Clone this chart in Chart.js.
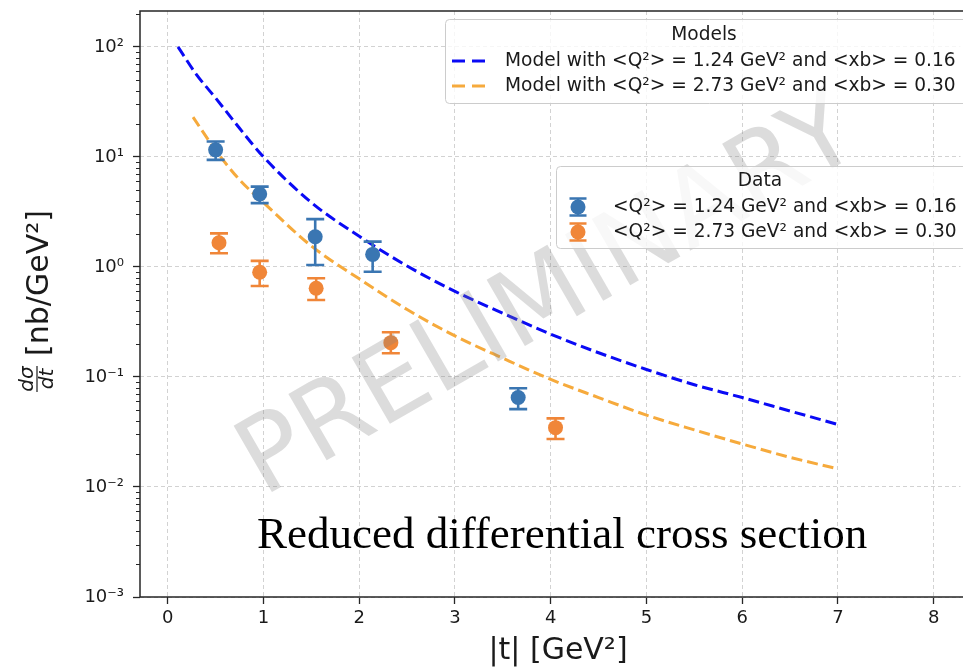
<!DOCTYPE html>
<html><head><meta charset="utf-8">
<script src="https://cdn.jsdelivr.net/npm/chart.js@4.4.1/dist/chart.umd.min.js"></script>
<style>
html,body{margin:0;padding:0;overflow:hidden;background:#fff}
canvas{display:block}
</style>
</head><body>
<canvas id="c" width="968" height="668" style="width:968px;height:668px"></canvas>
<script>
// ---- data ----
const xTickValues = [0, 1, 2, 3, 4, 5, 6, 7, 8];
const yTickExponents = [-3, -2, -1, 0, 1, 2];

const modelLabels = ['Model with <Q\u00B2> = 1.24 GeV\u00B2 and <xb> = 0.16',
                     'Model with <Q\u00B2> = 2.73 GeV\u00B2 and <xb> = 0.30'];
const dataLabels = ['<Q\u00B2> = 1.24 GeV\u00B2 and <xb> = 0.16',
                    '<Q\u00B2> = 2.73 GeV\u00B2 and <xb> = 0.30'];

const modelBlueT = [0.107, 0.3, 0.5, 0.75, 1.0, 1.5, 2.0, 2.5, 3.0, 3.5, 4.0, 4.5, 5.0, 5.5, 6.0, 6.5, 7.0];
const modelBlueV = [100, 56, 34.3, 18.2, 10, 3.85, 1.9, 1.02, 0.6, 0.38, 0.245, 0.166, 0.117, 0.085, 0.065, 0.049, 0.037];
const modelOrangeT = [0.264, 0.5, 0.75, 1.0, 1.5, 2.0, 2.5, 3.0, 3.5, 4.0, 4.5, 5.0, 5.5, 6.0, 6.5, 7.0];
const modelOrangeV = [23, 11.5, 6.2, 3.85, 1.55, 0.78, 0.41, 0.236, 0.148, 0.095, 0.065, 0.045, 0.033, 0.0246, 0.0186, 0.0146];

const dataBlueT  = [0.50, 0.96, 1.54, 2.14, 3.66];
const dataBlueV  = [11.6, 4.6, 1.88, 1.30, 0.065];
const dataBlueLo = [9.4, 3.8, 1.04, 0.905, 0.051];
const dataBlueHi = [13.8, 5.37, 2.72, 1.70, 0.079];

const dataOrangeT  = [0.535, 0.96, 1.55, 2.33, 4.05];
const dataOrangeV  = [1.66, 0.895, 0.64, 0.205, 0.0346];
const dataOrangeLo = [1.33, 0.672, 0.50, 0.164, 0.0273];
const dataOrangeHi = [2.02, 1.135, 0.789, 0.255, 0.042];

// ---- styling ----
const C_BLUE_LINE = '#0a0af5';
const C_ORANGE_LINE = '#f6aa3c';
const C_BLUE_PT = '#3a76b2';
const C_ORANGE_PT = '#f08638';
const FONT = '"DejaVu Sans", "Noto Sans", sans-serif';
const TXT = '#1a1a1a';

const SUP = {'-':'\u207B','0':'\u2070','1':'\u00B9','2':'\u00B2','3':'\u00B3','4':'\u2074','5':'\u2075','6':'\u2076','7':'\u2077','8':'\u2078','9':'\u2079'};
const sup = n => String(n).split('').map(c => SUP[c]).join('');
const pairs = (xs, ys) => xs.map((x, i) => ({x: x, y: ys[i]}));

const errorSets = {
  2: {t: dataBlueT, lo: dataBlueLo, hi: dataBlueHi, color: C_BLUE_PT},
  3: {t: dataOrangeT, lo: dataOrangeLo, hi: dataOrangeHi, color: C_ORANGE_PT}
};

function roundRect(ctx, x, y, w, h, r) {
  ctx.beginPath();
  ctx.moveTo(x + r, y);
  ctx.lineTo(x + w - r, y); ctx.quadraticCurveTo(x + w, y, x + w, y + r);
  ctx.lineTo(x + w, y + h - r); ctx.quadraticCurveTo(x + w, y + h, x + w - r, y + h);
  ctx.lineTo(x + r, y + h); ctx.quadraticCurveTo(x, y + h, x, y + h - r);
  ctx.lineTo(x, y + r); ctx.quadraticCurveTo(x, y, x + r, y);
  ctx.closePath();
}

function errMarker(ctx, x, y, color, half, capHalf, r) {
  ctx.strokeStyle = color; ctx.fillStyle = color; ctx.lineWidth = 2.6;
  ctx.beginPath();
  ctx.moveTo(x, y - half); ctx.lineTo(x, y + half);
  ctx.moveTo(x - capHalf, y - half); ctx.lineTo(x + capHalf, y - half);
  ctx.moveTo(x - capHalf, y + half); ctx.lineTo(x + capHalf, y + half);
  ctx.stroke();
  ctx.beginPath(); ctx.arc(x, y, r, 0, Math.PI * 2); ctx.fill();
}

const decorPlugin = {
  id: 'decor',
  beforeDatasetDraw(chart, args) {
    const e = errorSets[args.index];
    if (!e) return;
    const ctx = chart.ctx, xs = chart.scales.x, ys = chart.scales.y;
    ctx.save();
    ctx.strokeStyle = e.color; ctx.lineWidth = 2.6;
    e.t.forEach((t, i) => {
      const x = xs.getPixelForValue(t);
      const y1 = ys.getPixelForValue(e.lo[i]), y2 = ys.getPixelForValue(e.hi[i]);
      ctx.beginPath();
      ctx.moveTo(x, y1); ctx.lineTo(x, y2);
      ctx.moveTo(x - 9, y1); ctx.lineTo(x + 9, y1);
      ctx.moveTo(x - 9, y2); ctx.lineTo(x + 9, y2);
      ctx.stroke();
    });
    ctx.restore();
  },
  afterDatasetsDraw(chart) {
    const ctx = chart.ctx, a = chart.chartArea, ys = chart.scales.y;
    ctx.save();
    // frame (right spine lies outside the picture)
    ctx.strokeStyle = '#262626'; ctx.lineWidth = 1.5; ctx.setLineDash([]);
    ctx.beginPath();
    ctx.moveTo(a.right + 5, a.top); ctx.lineTo(a.left, a.top);
    ctx.lineTo(a.left, a.bottom); ctx.lineTo(a.right + 5, a.bottom);
    ctx.stroke();
    // minor log ticks
    ctx.lineWidth = 1;
    for (let e = -3; e <= 2; e++) {
      for (let m = 2; m <= 9; m++) {
        const v = m * Math.pow(10, e);
        if (v > ys.max) continue;
        const y = Math.round(ys.getPixelForValue(v)) + 0.5;
        ctx.beginPath(); ctx.moveTo(a.left - 4, y); ctx.lineTo(a.left, y); ctx.stroke();
      }
    }
    // caption inside plot
    ctx.fillStyle = '#000';
    ctx.font = '45px "Liberation Serif", "Times New Roman", serif';
    ctx.textAlign = 'left'; ctx.textBaseline = 'alphabetic';
    ctx.fillText('Reduced differential cross section', 257, 548);
    // watermark
    ctx.save();
    ctx.translate(550, 300);
    ctx.rotate(-30 * Math.PI / 180);
    ctx.font = '105px ' + FONT;
    ctx.fillStyle = 'rgba(128,128,128,0.28)';
    ctx.textAlign = 'center'; ctx.textBaseline = 'middle';
    ctx.fillText('PRELIMINARY', 0, 0);
    ctx.restore();

    // Models legend
    ctx.font = '18.6px ' + FONT;
    roundRect(ctx, 445.5, 19.5, 540, 84, 4);
    ctx.fillStyle = 'rgba(255,255,255,0.8)'; ctx.fill();
    ctx.strokeStyle = '#cccccc'; ctx.lineWidth = 1; ctx.stroke();
    ctx.fillStyle = TXT; ctx.textAlign = 'center'; ctx.textBaseline = 'middle';
    ctx.fillText('Models', 704, 35);
    ctx.textAlign = 'left';
    [[C_BLUE_LINE, 61], [C_ORANGE_LINE, 86]].forEach(([c, y], i) => {
      ctx.save();
      ctx.strokeStyle = c; ctx.lineWidth = 3; ctx.setLineDash([13, 7]);
      ctx.beginPath(); ctx.moveTo(452, y); ctx.lineTo(486, y); ctx.stroke();
      ctx.restore();
      ctx.fillStyle = TXT;
      ctx.fillText(modelLabels[i], 505, y);
    });

    // Data legend
    roundRect(ctx, 556.5, 166.5, 430, 82, 4);
    ctx.fillStyle = 'rgba(255,255,255,0.8)'; ctx.fill();
    ctx.strokeStyle = '#cccccc'; ctx.lineWidth = 1; ctx.stroke();
    ctx.fillStyle = TXT; ctx.textAlign = 'center';
    ctx.fillText('Data', 760, 181);
    ctx.textAlign = 'left';
    [[C_BLUE_PT, 207], [C_ORANGE_PT, 232]].forEach(([c, y], i) => {
      errMarker(ctx, 578, y, c, 8.5, 8.5, 7.5);
      ctx.fillStyle = TXT;
      ctx.fillText(dataLabels[i], 613, y);
    });

    // y axis title
    ctx.fillStyle = TXT;
    ctx.save();
    ctx.translate(48, 283);
    ctx.rotate(-Math.PI / 2);
    ctx.font = '30px ' + FONT;
    ctx.textAlign = 'center'; ctx.textBaseline = 'alphabetic';
    ctx.fillText('[nb/GeV\u00B2]', 0, 0);
    ctx.restore();
    ctx.save();
    ctx.translate(37, 379);
    ctx.rotate(-Math.PI / 2);
    ctx.font = 'italic 20px ' + FONT;
    ctx.textAlign = 'center'; ctx.textBaseline = 'alphabetic';
    ctx.fillText('d\u03C3', 0, -4);
    ctx.fillText('dt', 0, 16);
    ctx.strokeStyle = TXT; ctx.lineWidth = 1.2;
    ctx.beginPath(); ctx.moveTo(-13, 0); ctx.lineTo(13, 0); ctx.stroke();
    ctx.restore();

    // x axis title (centred on the full, cropped axes)
    ctx.font = '30px ' + FONT;
    ctx.textAlign = 'center'; ctx.textBaseline = 'middle';
    ctx.fillText('|t| [GeV\u00B2]', 558, 651);

    ctx.restore();
  }
};

const gridCommon = {
  color: '#d2d2d2', lineWidth: 1, drawTicks: true, tickLength: 7,
  tickColor: '#262626', tickWidth: 1.3
};

const zeroPad = s => { s.paddingTop = 0; s.paddingBottom = 0; s.paddingLeft = 0; s.paddingRight = 0; };

new Chart(document.getElementById('c'), {
  type: 'scatter',
  data: {
    datasets: [
      {type: 'line', label: modelLabels[0], data: pairs(modelBlueT, modelBlueV),
       borderColor: C_BLUE_LINE, borderWidth: 3, borderDash: [11, 5], pointRadius: 0,
       cubicInterpolationMode: 'monotone', fill: false, order: 2},
      {type: 'line', label: modelLabels[1], data: pairs(modelOrangeT, modelOrangeV),
       borderColor: C_ORANGE_LINE, borderWidth: 3, borderDash: [11, 5], pointRadius: 0,
       cubicInterpolationMode: 'monotone', fill: false, order: 2},
      {type: 'scatter', label: dataLabels[0], data: pairs(dataBlueT, dataBlueV),
       backgroundColor: C_BLUE_PT, borderWidth: 0, pointRadius: 7.5, order: 1},
      {type: 'scatter', label: dataLabels[1], data: pairs(dataOrangeT, dataOrangeV),
       backgroundColor: C_ORANGE_PT, borderWidth: 0, pointRadius: 7.5, order: 1}
    ]
  },
  options: {
    responsive: false, animation: false, devicePixelRatio: 1,
    layout: {padding: {top: 11, left: 0, right: 0, bottom: 0}},
    plugins: {legend: {display: false}, tooltip: {enabled: false}},
    scales: {
      x: {
        type: 'linear', min: -0.29, max: 8.28,
        afterBuildTicks: s => { s.ticks = xTickValues.map(v => ({value: v})); },
        afterFit: s => { s.height = 71; zeroPad(s); },
        ticks: {autoSkip: false, maxRotation: 0, padding: 4, color: TXT, font: {family: FONT, size: 18}},
        grid: gridCommon,
        border: {display: false, dash: [4, 3]},
        title: {display: false}
      },
      y: {
        type: 'logarithmic', min: 1e-3, max: 212,
        afterBuildTicks: s => { s.ticks = yTickExponents.map(e => ({value: Math.pow(10, e)})); },
        afterFit: s => { s.width = 140; zeroPad(s); },
        ticks: {autoSkip: false, padding: 9, color: TXT, font: {family: FONT, size: 18},
                callback: v => '10' + sup(Math.round(Math.log10(v)))},
        grid: gridCommon,
        border: {display: false, dash: [4, 3]}
      }
    }
  },
  plugins: [decorPlugin]
});
</script>
</body></html>
